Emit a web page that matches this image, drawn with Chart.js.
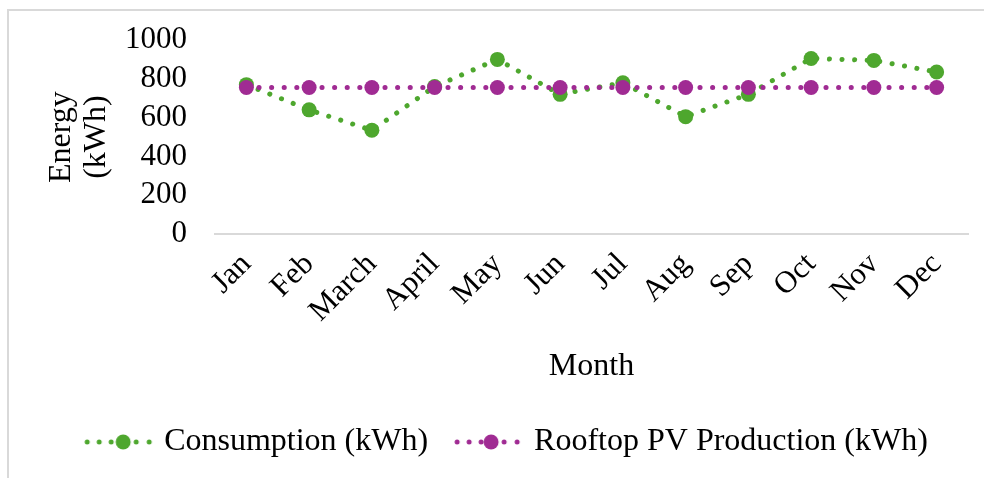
<!DOCTYPE html>
<html>
<head>
<meta charset="utf-8">
<script src="https://cdn.jsdelivr.net/npm/chart.js@4.4.1/dist/chart.umd.min.js"></script>
<style>
  html, body { margin:0; padding:0; background:#fff; overflow:hidden; }
  #frame { position:absolute; left:7px; top:9px; width:1100px; height:600px; border:2px solid #d9d9d9; box-sizing:border-box; }
  #myChart { position:absolute; left:0; top:0; }
</style>
</head>
<body>
<div id="frame"></div>
<canvas id="myChart" width="984" height="478"></canvas>
<script>
// data
const months = ['Jan','Feb','March','April','May','Jun','Jul','Aug','Sep','Oct','Nov','Dec'];
const consumption = [770, 640, 535, 760, 900, 720, 780, 605, 720, 905, 895, 835];
const pvProduction = [755, 755, 755, 755, 755, 755, 755, 755, 755, 755, 755, 755];
const yTicks = [0, 200, 400, 600, 800, 1000];

const green = '#4ea72e';
const purple = '#a02b93';
const serif = "'Liberation Serif', 'Times New Roman', serif";

// legend sample: dotted line with a marker in the middle
function legendMark(color, mx) {
    const c = document.createElement('canvas');
    c.width = 100; c.height = 18;
    const g = c.getContext('2d');
    g.fillStyle = color;
    [29, 41, 53, mx + 13, mx + 26].forEach(function(x){
        g.beginPath(); g.arc(x, 9, 2.5, 0, Math.PI*2); g.fill();
    });
    g.beginPath(); g.arc(mx, 9, 7.5, 0, Math.PI*2); g.fill();
    return c;
}
const marks = [legendMark(green, 65), legendMark(purple, 63)];

var ctx = document.getElementById('myChart').getContext('2d');
var myChart = new Chart(ctx, {
    type: 'line',
    data: {
        labels: months,
        datasets: [{
            label: 'Consumption (kWh)',
            data: consumption,
            borderColor: green,
            backgroundColor: green,
            borderWidth: 5,
            borderDash: [0.1, 12.5],
            borderCapStyle: 'round',
            pointRadius: 7.5,
            pointBorderWidth: 0,
            pointBackgroundColor: green,
            tension: 0,
            order: 1
        },{
            label: 'Rooftop PV Production (kWh)',
            data: pvProduction,
            borderColor: purple,
            backgroundColor: purple,
            borderWidth: 5,
            borderDash: [0.1, 12.5],
            borderCapStyle: 'round',
            pointRadius: 7.5,
            pointBorderWidth: 0,
            pointBackgroundColor: purple,
            tension: 0,
            order: 0
        }]
    },
    options: {
        responsive: false,
        animation: false,
        devicePixelRatio: 1,
        layout: { padding: { left: 28, right: 16, top: 40, bottom: 10 } },
        scales: {
            x: {
                offset: true,
                grid: { display: false },
                border: { color: '#d9d9d9', width: 2 },
                ticks: { color: '#000', font: { family: serif, size: 31 }, minRotation: 45, maxRotation: 45, padding: 4, autoSkip: false },
                title: { display: true, text: 'Month', color: '#000', font: { family: serif, size: 32 }, padding: { top: 14, bottom: 30 } }
            },
            y: {
                min: 0, max: 1000,
                afterBuildTicks: function(axis){ axis.ticks = yTicks.map(function(v){ return {value: v}; }); },
                afterFit: function(axis){ axis.width = 187; axis.paddingTop = 0; axis.paddingBottom = 0; },
                grid: { display: false, drawTicks: false },
                border: { display: false },
                ticks: { color: '#000', font: { family: serif, size: 31 }, padding: 28, autoSkip: false,
                    callback: function(v){ return String(v); } },
                title: { display: true, text: ['Energy', '(kWh)'], color: '#000', font: { family: serif, size: 32, lineHeight: 1.1 }, padding: { top: 16, bottom: 0 } }
            }
        },
        plugins: {
            tooltip: { enabled: false },
            legend: {
                position: 'bottom',
                labels: {
                    color: '#000',
                    font: { family: serif, size: 32 },
                    usePointStyle: true,
                    pointStyleWidth: 80,
                    padding: 10,
                    sort: function(a, b){ return a.datasetIndex - b.datasetIndex; },
                    generateLabels: function(chart) {
                        const items = Chart.defaults.plugins.legend.labels.generateLabels(chart);
                        items.forEach(function(it){ it.pointStyle = marks[it.datasetIndex]; });
                        return items;
                    }
                }
            }
        }
    }
});
</script>
</body>
</html>
